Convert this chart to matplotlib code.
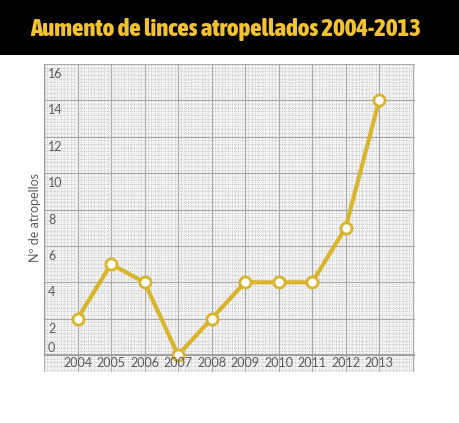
import matplotlib
matplotlib.use("Agg")
from matplotlib import pyplot as plt
from matplotlib import font_manager
from matplotlib.ticker import MultipleLocator

# datos
years = [2004, 2005, 2006, 2007, 2008, 2009, 2010, 2011, 2012, 2013]
atropellos = [2, 5, 4, 0, 2, 4, 4, 4, 7, 14]
y_ticks = [0, 2, 4, 6, 8, 10, 12, 14, 16]

title = "Aumento de linces atropellados 2004-2013"
y_label = "Nº de atropellos"

yellow = "#d8b52a"
text_gray = "#5a5a5a"


def _pick_condensed_font():
    # busca una fuente estrecha y en negrita entre las instaladas
    best = None
    best_score = -1
    for f in font_manager.fontManager.ttflist:
        name = (f.name + " " + str(f.fname)).lower()
        score = 0
        if "narrow" in name or "condensed" in name or f.stretch in ("condensed", "semi-condensed", "extra-condensed"):
            score += 10
        else:
            continue
        if "extra" in name or f.stretch == "extra-condensed":
            score += 1
        w = f.weight if isinstance(f.weight, int) else 400
        if w >= 700:
            score += 5
        if "italic" in name or f.style != "normal":
            score -= 20
        if score > best_score:
            best, best_score = f, score
    if best is None:
        return font_manager.FontProperties(family="DejaVu Sans", weight="bold")
    return font_manager.FontProperties(fname=best.fname)


fig = plt.figure(figsize=(4.6, 4.23), dpi=100)
fig.patch.set_facecolor("white")

# banda negra del título
band = fig.add_axes([0, 1 - 55 / 423, 1, 55 / 423])
band.set_facecolor("black")
band.set_xticks([])
band.set_yticks([])
for s in band.spines.values():
    s.set_visible(False)
title_font = _pick_condensed_font()
title_font.set_size(26)
t = band.text(0.49, 0.47, title, color="#f3c230", fontproperties=title_font,
              ha="center", va="center", transform=band.transAxes)

# ajustar el tamaño para que ocupe el mismo ancho que el original
fig.canvas.draw()
w = t.get_window_extent().width
t.set_fontsize(26 * 392 / w)

ax = fig.add_axes([44 / 460, 51 / 423, 371 / 460, 308 / 423])
ax.set_facecolor("#f4f4f4")
ax.set_xlim(2003, 2014.07)
ax.set_ylim(-0.93, 16)

ax.xaxis.set_major_locator(MultipleLocator(1))
ax.yaxis.set_major_locator(MultipleLocator(2))
ax.xaxis.set_minor_locator(MultipleLocator(0.1))
ax.yaxis.set_minor_locator(MultipleLocator(0.2))
ax.grid(which="minor", color="#bebebe", linestyle=(0, (1, 1.5)), linewidth=0.6)
ax.grid(which="major", color="#a8a8a8", linestyle="-", linewidth=0.8)
ax.set_axisbelow(True)
ax.tick_params(which="both", length=0, labelbottom=False, labelleft=False)
for s in ax.spines.values():
    s.set_visible(False)

ax.plot([2003, 2003], [0, 16], color="#999999", linewidth=1, zorder=2)
ax.axhline(0, color="#999999", linewidth=1.2, zorder=2)

ax.plot(years, atropellos, color=yellow, linewidth=3, marker="o",
        markersize=8, markerfacecolor="white", markeredgecolor=yellow,
        markeredgewidth=2, zorder=3, clip_on=False)

for v in y_ticks:
    ax.text(2003.12, max(v - 0.55, 0.38), str(v), color=text_gray, fontsize=9,
            family="Lato", ha="left", va="center")

for yr in years:
    ax.text(yr, -0.45, str(yr), color=text_gray, fontsize=9, family="Lato",
            ha="center", va="center")

fig.text(35 / 460, 1 - 218 / 423, y_label, color=text_gray, fontsize=9,
         family="Lato", rotation=90, ha="center", va="center")

fig.savefig("out.png", dpi=100)
